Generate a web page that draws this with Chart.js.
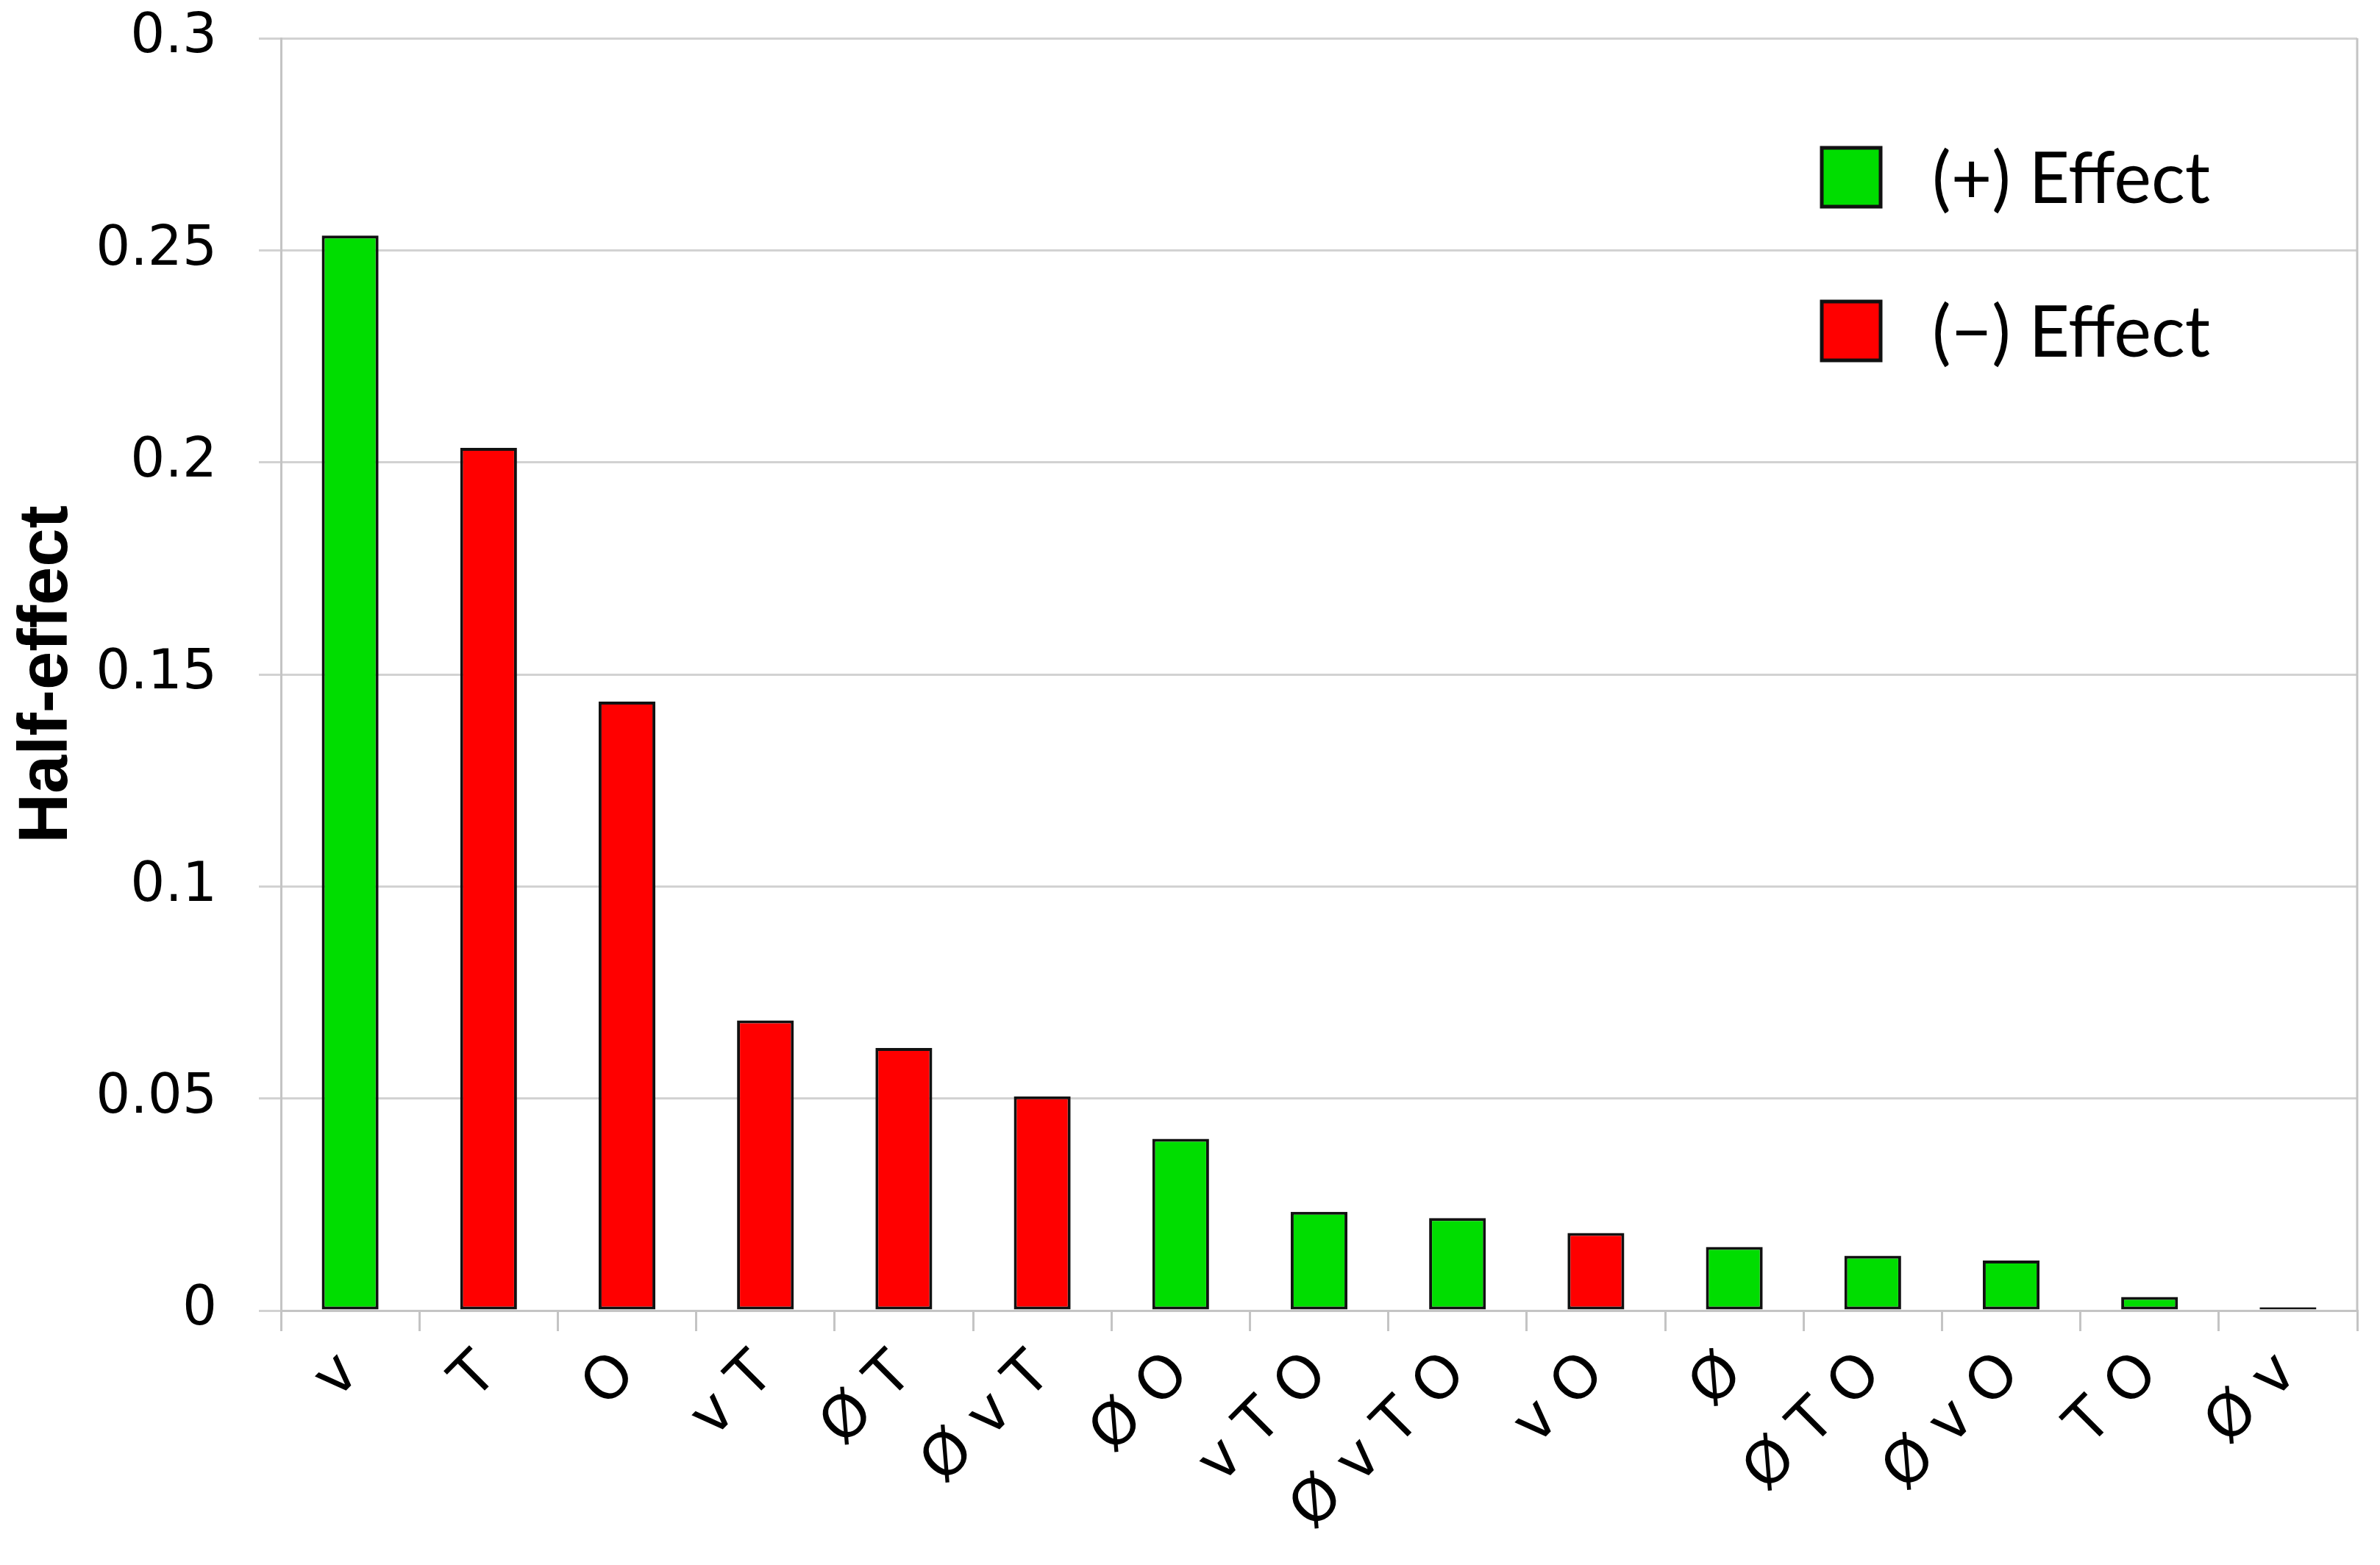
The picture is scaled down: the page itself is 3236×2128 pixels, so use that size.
<!DOCTYPE html>
<html>
<head>
<meta charset="utf-8">
<script src="https://cdn.jsdelivr.net/npm/chart.js@4/dist/chart.umd.min.js"></script>
<style>
  html, body { margin: 0; padding: 0; background: #fff; }
  #wrap { width: 3236px; height: 2128px; }
</style>
</head>
<body>
<div id="wrap"><canvas id="chart"></canvas></div>
<script>
// factor labels, in the order of the bars
var factors = ['v', 'T', 'O', 'v T', 'Ø T', 'Ø v T', 'Ø O', 'v T O', 'Ø v T O', 'v O', 'Ø', 'Ø T O', 'Ø v O', 'T O', 'Ø v'];
// half-effect magnitude of each factor
var halfEffects = [0.2535, 0.2034, 0.1436, 0.0684, 0.0619, 0.0505, 0.0405, 0.0233, 0.0218, 0.0183, 0.0150, 0.0129, 0.0118, 0.0032, 0.0008];
// sign of each effect
var signs = ['+', '-', '-', '-', '-', '-', '+', '+', '+', '-', '+', '+', '+', '+', '+'];
var yTicks = [0, 0.05, 0.1, 0.15, 0.2, 0.25, 0.3];
var legendLabels = ['(+) Effect', '(\u2212) Effect'];

var GREEN = '#00dd00';
var RED = '#ff0000';

var colors = [];
for (var i = 0; i < signs.length; i++) {
    colors.push(signs[i] === '+' ? GREEN : RED);
}

// legend drawn inside the plot, top right
var insideLegend = {
    id: 'insideLegend',
    afterDraw: function (chart) {
        var ctx = chart.ctx;
        var fills = [GREEN, RED];
        ctx.save();
        ctx.font = '96px Lato, "Liberation Sans", sans-serif';
        ctx.textBaseline = 'middle';
        for (var k = 0; k < legendLabels.length; k++) {
            var cy = 241 + k * 209;
            ctx.fillStyle = fills[k];
            ctx.fillRect(2477, cy - 40, 80, 80);
            ctx.lineWidth = 5;
            ctx.strokeStyle = '#111';
            ctx.strokeRect(2477, cy - 40, 80, 80);
            ctx.fillStyle = '#000';
            ctx.fillText(legendLabels[k], 2627, cy + 4);
        }
        ctx.restore();
    }
};

// grey line on the right edge of the plot
var frame = {
    id: 'frame',
    beforeDatasetsDraw: function (chart) {
        var a = chart.chartArea;
        var ctx = chart.ctx;
        ctx.save();
        ctx.strokeStyle = '#c4c4c4';
        ctx.lineWidth = 3;
        ctx.beginPath();
        ctx.moveTo(a.right, a.top);
        ctx.lineTo(a.right, a.bottom);
        ctx.stroke();
        ctx.restore();
    }
};

var ctx = document.getElementById('chart');
new Chart(ctx, {
    type: 'bar',
    data: {
        labels: factors,
        datasets: [{
            label: 'Half-effect',
            data: halfEffects,
            backgroundColor: colors,
            borderColor: '#111',
            borderWidth: 4,
            borderSkipped: false,
            categoryPercentage: 1,
            barPercentage: 0.41
        }]
    },
    options: {
        responsive: true,
        maintainAspectRatio: false,
        animation: false,
        layout: { padding: { top: 52, right: 31, left: 9, bottom: 0 } },
        plugins: {
            legend: { display: false },
            tooltip: { enabled: false }
        },
        scales: {
            x: {
                grid: {
                    offset: true,
                    drawOnChartArea: false,
                    color: '#c4c4c4',
                    lineWidth: 3,
                    tickLength: 28
                },
                border: { color: '#c4c4c4', width: 3 },
                ticks: {
                    autoSkip: false,
                    maxRotation: 45,
                    minRotation: 45,
                    padding: 12,
                    color: '#000',
                    font: { family: '"DejaVu Sans", Verdana, sans-serif', size: 80 }
                },
                afterFit: function (s) { s.height = 346; }
            },
            y: {
                min: 0,
                max: 0.3,
                afterBuildTicks: function (s) {
                    s.ticks = yTicks.map(function (v) { return { value: v }; });
                },
                grid: {
                    color: '#d2d2d2',
                    lineWidth: 3,
                    tickLength: 30
                },
                border: { color: '#c4c4c4', width: 3 },
                ticks: {
                    padding: 57,
                    color: '#000',
                    font: { family: '"DejaVu Sans", Verdana, sans-serif', size: 74 },
                    callback: function (v) { return String(Math.round(v * 100) / 100); }
                },
                title: {
                    display: true,
                    text: 'Half-effect',
                    color: '#000',
                    font: { family: '"Liberation Sans", Arial, sans-serif', size: 94, weight: 'bold' },
                    padding: { top: 0, bottom: 0 }
                },
                afterFit: function (s) {
                    s.width = 373;
                    s.paddingTop = 0;
                    s.paddingBottom = 0;
                }
            }
        }
    },
    plugins: [frame, insideLegend]
});
</script>
</body>
</html>
